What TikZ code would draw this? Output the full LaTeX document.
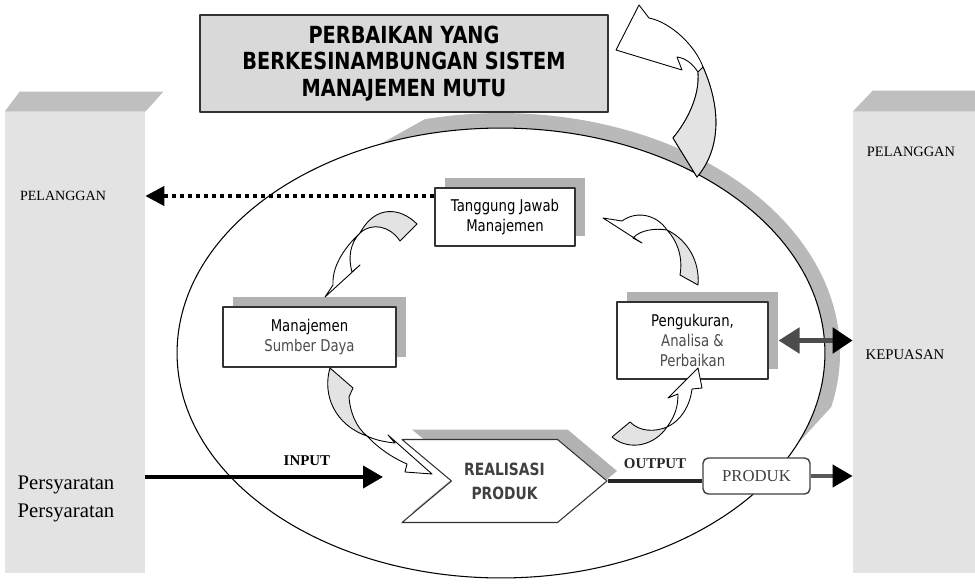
\documentclass[tikz,border=0pt]{standalone}
\usepackage{fontspec}
\setmainfont{Liberation Serif}
\newfontfamily\boxfont{DejaVu Sans}[FakeStretch=0.82]
\usetikzlibrary{arrows.meta,shapes.symbols,shadows,positioning,calc}

\begin{document}
\begin{tikzpicture}[x=0.02cm, y=-0.02cm, line join=round,
  every node/.style={inner sep=0pt},
  col/.style={fill=gray!22},
  coltop/.style={fill=gray!50},
  sbox/.style={draw=black!80, line width=0.6pt, fill=white, align=center,
    font=\boxfont\fontsize{9.2}{11.3}\selectfont,
    drop shadow={shadow xshift=0.2cm, shadow yshift=0.2cm, fill=gray!60, opacity=1}},
  ribbon/.style={draw=black, line width=0.5pt, fill=white},
  ribbongray/.style={fill=gray!22},
  thickarrow/.style={line width=0.08cm, -{Triangle[length=0.4cm, width=0.44cm]}}]

\useasboundingbox (0,0) rectangle (975,585);

% ellipse with grey rim
\coordinate (ctr) at (501,353);
\fill[gray!55] ($(ctr)+(112:6.48cm and 4.5cm)$) arc[start angle=112, end angle=-24, x radius=6.48cm, y radius=4.5cm]
  -- ($(ctr)+(-13:6.78cm and 4.8cm)$) arc[start angle=-13, end angle=103, x radius=6.78cm, y radius=4.8cm] -- cycle;
\draw[fill=white, line width=0.6pt] (ctr) ellipse [x radius=6.48cm, y radius=4.5cm];

% customer columns
\node[col, minimum width=2.8cm, minimum height=9.22cm] (lcol) at (75,342.5) {};
\fill[coltop] (lcol.north west) -- (lcol.north east) -- ++(18,-20) -- ($(lcol.north west)+(15,-20)$) -- cycle;
\node[col, minimum width=2.44cm, minimum height=9.22cm] (rcol) at (914,342.5) {};
\fill[coltop] (rcol.north west) -- (rcol.north east) -- ++(0,-21) -- ($(rcol.north west)+(20,-21)$) -- cycle;

\node[font=\fontsize{8}{9}\selectfont] (lpel) at (63,196) {PELANGGAN};
\node[align=left, font=\fontsize{11.8}{16}\selectfont] (req) at (66,499) {Persyaratan\\Persyaratan};
\node[font=\fontsize{8.2}{9}\selectfont] (rpel) at (911,152) {PELANGGAN};
\node[font=\fontsize{8.4}{9}\selectfont] (puas) at (905,355) {KEPUASAN};

% title
\node[draw=black!80, line width=0.9pt, fill=gray!30, minimum width=8.16cm, minimum height=1.94cm,
  align=center, font=\boxfont\bfseries\fontsize{13.4}{15.3}\selectfont] (title) at (404,63.5)
  {PERBAIKAN YANG\\BERKESINAMBUNGAN SISTEM\\MANAJEMEN MUTU};

% process boxes
\node[sbox, minimum width=2.8cm, minimum height=1.16cm] (tj) at (505,217) {Tanggung Jawab\\Manajemen};
\node[sbox, minimum width=3.46cm, minimum height=1.2cm] (msd) at (309.5,337)
  {Manajemen\\\textcolor{black!70}{Sumber Daya}};
\node[sbox, minimum width=3.02cm, minimum height=1.54cm] (peng) at (692.5,340.5)
  {Pengukuran,\\\textcolor{black!70}{Analisa \&}\\\textcolor{black!70}{Perbaikan}};
\node[sbox, signal, signal from=west, signal to=east, signal pointer angle=80,
  minimum width=4.1cm, minimum height=1.66cm, text=black!75,
  font=\boxfont\bfseries\fontsize{9.6}{13.6}\selectfont] (real) at (504.5,481) {REALISASI\\PRODUK};
\node[draw=black!75, line width=0.8pt, fill=white, rounded corners=3pt, minimum width=2.14cm,
  minimum height=0.72cm, text=black!75, font=\fontsize{9.5}{10}\selectfont] (prod) at (756.5,476) {PRODUK};

\coordinate (inend) at (383,477);

% connectors
\draw[line width=0.08cm, dash pattern=on 2.3pt off 2.3pt, -{Triangle[length=0.38cm, width=0.38cm]}]
  (tj.west |- lpel) -- (lpel -| lcol.east);
\draw[line width=0.1cm, black!70, {Triangle[length=0.42cm, width=0.5cm]}-{Triangle[length=0.4cm, width=0.5cm, color=black]}]
  ([xshift=0.2cm]peng.east) -- (peng.east -| rcol.west);
\draw[thickarrow] (lcol.east |- inend) -- (inend)
  node[pos=0.68, above=0.18cm, font=\bfseries\fontsize{8.5}{9}\selectfont] {INPUT};
\draw[line width=0.08cm, black!85] (real.east) -- (real.east -| prod.west)
  node[midway, above=0.2cm, font=\bfseries\fontsize{8.5}{9}\selectfont] {OUTPUT};
\draw[line width=0.08cm, black!65, -{Triangle[length=0.4cm, width=0.44cm, color=black]}]
  (prod.east) -- (prod.east -| rcol.west);

% curved block arrows
\filldraw[ribbon] (639,5) -- (649,18) .. controls (670,22) and (695,45) .. (703,67)
  .. controls (722,110) and (720,150) .. (697,177) -- (673,138)
  .. controls (688,120) and (700,95) .. (698,72) .. controls (692,63) and (685,58) .. (677,57)
  -- (682,70) -- (616,50) -- cycle;
\filldraw[ribbon, ribbongray] (703,67) .. controls (722,110) and (720,150) .. (697,177) -- (673,138)
  .. controls (688,120) and (700,95) .. (698,72) -- cycle;

\filldraw[ribbon] (360,233) .. controls (342,250) and (332,268) .. (333,285) -- (325,297) -- (360,265)
  -- (352,272) .. controls (348,258) and (350,243) .. (360,233);
\filldraw[ribbon, ribbongray] (417,224) .. controls (400,207) and (375,205) .. (360,233)
  .. controls (372,222) and (390,226) .. (400,241) -- cycle;

\filldraw[ribbon] (603,218) -- (622,221) .. controls (637,210) and (657,215) .. (667,230)
  .. controls (655,228) and (640,230) .. (633,238) -- (642,243) -- cycle;
\filldraw[ribbon, ribbongray] (667,230) .. controls (688,240) and (700,262) .. (698,285) -- (680,275)
  .. controls (683,258) and (678,242) .. (667,230);

\filldraw[ribbon, ribbongray] (330,368) -- (353,388) -- (349,397) .. controls (350,412) and (356,427) .. (367,436)
  .. controls (335,425) and (322,395) .. (330,368);
\filldraw[ribbon] (367,436) .. controls (375,440) and (385,442) .. (395,443) -- (388,435) -- (432,474)
  -- (405,472) -- (407,464) .. controls (393,458) and (378,448) .. (367,436);

\filldraw[ribbon, ribbongray] (612,437) -- (630,422) .. controls (640,432) and (655,432) .. (667,427)
  .. controls (655,445) and (630,452) .. (612,437);
\filldraw[ribbon] (667,427) .. controls (676,415) and (678,405) .. (678,394) -- (668,398) -- (698,368)
  -- (702,388) -- (692,389) .. controls (690,405) and (682,420) .. (667,427);
\end{tikzpicture}
\end{document}
